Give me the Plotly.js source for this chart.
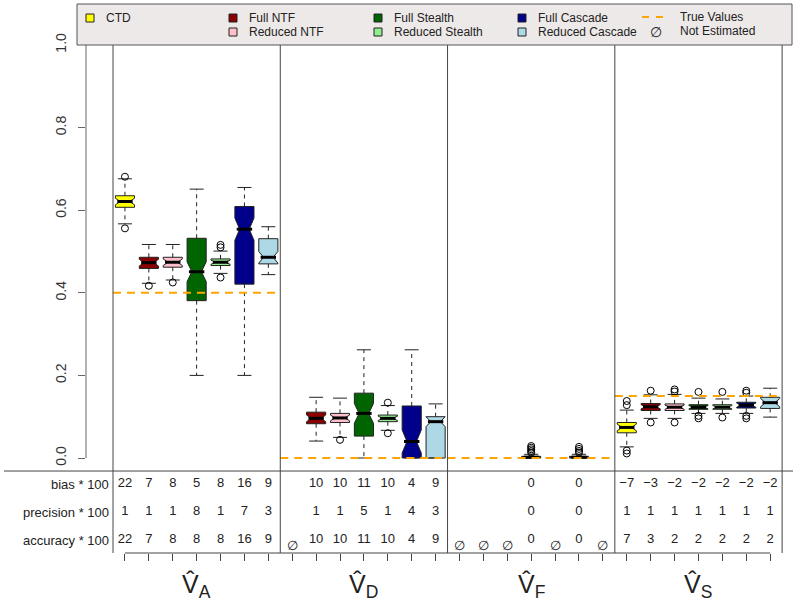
<!DOCTYPE html>
<html>
<head>
<meta charset="utf-8">
<script src="https://cdn.plot.ly/plotly-3.0.1.min.js"></script>
<style>body{margin:0;background:#fff;} #chart{width:800px;height:605px;}</style>
</head>
<body>
<div id="chart"></div>
<script>
// methods, in plotting order inside each panel
const methods = ['CTD', 'Full NTF', 'Reduced NTF', 'Full Stealth', 'Reduced Stealth', 'Full Cascade', 'Reduced Cascade'];
const boxColors = ['#FFFF00', '#8B0000', '#FFC0CB', '#006400', '#90EE90', '#00008B', '#ADD8E6'];
const paramLetters = ['A', 'D', 'F', 'S'];
const trueValues = [0.4, 0, 0, 0.15];

// box stats, one row per parameter (V_A, V_D, V_F, V_S), null = not estimated
const q1s = [
  [0.607, 0.459, 0.462, 0.381, 0.466, 0.421, 0.470],
  [null, 0.083, 0.086, 0.053, 0.088, 0.000, 0.000],
  [null, null, null, 0.000, null, 0.000, null],
  [0.061, 0.115, 0.115, 0.118, 0.118, 0.121, 0.120]
];
const medians = [
  [0.621, 0.473, 0.474, 0.451, 0.474, 0.554, 0.486],
  [null, 0.096, 0.097, 0.108, 0.096, 0.040, 0.088],
  [null, null, null, 0.002, null, 0.002, null],
  [0.074, 0.124, 0.123, 0.123, 0.123, 0.128, 0.134]
];
const q3s = [
  [0.635, 0.486, 0.486, 0.532, 0.482, 0.609, 0.531],
  [null, 0.111, 0.108, 0.157, 0.104, 0.126, 0.100],
  [null, null, null, 0.004, null, 0.004, null],
  [0.086, 0.132, 0.131, 0.129, 0.129, 0.135, 0.147]
];
const lowerW = [
  [0.567, 0.423, 0.431, 0.200, 0.447, 0.200, 0.444],
  [null, 0.041, 0.050, 0.000, 0.067, 0.000, 0.000],
  [null, null, null, 0.000, null, 0.000, null],
  [0.027, 0.096, 0.096, 0.108, 0.108, 0.108, 0.099]
];
const upperW = [
  [0.676, 0.517, 0.517, 0.651, 0.501, 0.655, 0.560],
  [null, 0.147, 0.145, 0.262, 0.127, 0.262, 0.131],
  [null, null, null, 0.009, null, 0.009, null],
  [0.116, 0.153, 0.154, 0.145, 0.143, 0.150, 0.169]
];
const notchSpans = [
  [0.008, 0.008, 0.008, 0.024, 0.005, 0.027, 0.014],
  [null, 0.008, 0.007, 0.024, 0.005, 0.028, 0.012],
  [null, null, null, 0.001, null, 0.001, null],
  [0.008, 0.005, 0.005, 0.004, 0.004, 0.005, 0.010]
];
const outliers = [
  [[0.681, 0.556], [0.417], [0.425], [], [0.516, 0.510, 0.437], [], []],
  [[], [], [0.044], [], [0.134, 0.060], [], []],
  [[], [], [], [0.013, 0.017, 0.021, 0.025, 0.029], [], [0.013, 0.017, 0.022, 0.027], []],
  [[0.128, 0.138, 0.018, 0.011], [0.163, 0.086], [0.166, 0.161, 0.086], [0.160, 0.102, 0.096], [0.160, 0.098], [0.163, 0.158, 0.102, 0.096], []]
];

// summary table (* 100)
const rowLabels = ['bias * 100', 'precision * 100', 'accuracy * 100'];
const bias = [
  [22, 7, 8, 5, 8, 16, 9],
  [null, 10, 10, 11, 10, 4, 9],
  [null, null, null, 0, null, 0, null],
  [-7, -3, -2, -2, -2, -2, -2]
];
const precision = [
  [1, 1, 1, 8, 1, 7, 3],
  [null, 1, 1, 5, 1, 4, 3],
  [null, null, null, 0, null, 0, null],
  [1, 1, 1, 1, 1, 1, 1]
];
const accuracy = [
  [22, 7, 8, 8, 8, 16, 9],
  [null, 10, 10, 11, 10, 4, 9],
  [null, null, null, 0, null, 0, null],
  [7, 3, 2, 2, 2, 2, 2]
];

const W = 800, H = 605;
const M = {l: 86, r: 10, t: 44, b: 52};
const FONT = 'Liberation Sans, Arial, sans-serif';
const rowY = [-0.063, -0.131, -0.199];
const emptyY = -0.214;

function pos(p, m) { return p * 7 + m + 1; }
// pixel -> paper helpers for things drawn outside the data
function px(x) { return (x - M.l) / (W - M.l - M.r); }
function py(y) { return (H - M.b - y) / (H - M.t - M.b); }
function fmt(v) { return v < 0 ? '\u2212' + Math.abs(v) : String(v); }

const traces = [];

// dashed whiskers + caps
const wx = [], wy = [], capX = [], capY = [];
paramLetters.forEach((_, p) => methods.forEach((_, m) => {
  if (q1s[p][m] === null) return;
  const x = pos(p, m);
  wx.push(x, x, null, x, x, null);
  wy.push(q3s[p][m], upperW[p][m], null, q1s[p][m], lowerW[p][m], null);
  capX.push(x, x);
  capY.push(upperW[p][m], lowerW[p][m]);
}));
traces.push({
  type: 'scatter', mode: 'lines', x: wx, y: wy, connectgaps: false,
  line: {color: '#222', width: 1, dash: '4px,4px'}, hoverinfo: 'skip', showlegend: false
});
traces.push({
  type: 'scatter', mode: 'markers', x: capX, y: capY,
  marker: {symbol: 'line-ew', size: 10, line: {color: '#222', width: 1}},
  hoverinfo: 'skip', showlegend: false
});

// boxes, one trace per method
methods.forEach((name, m) => {
  const ps = [0, 1, 2, 3].filter(p => q1s[p][m] !== null);
  traces.push({
    type: 'box', name: name,
    x: ps.map(p => pos(p, m)),
    q1: ps.map(p => q1s[p][m]),
    median: ps.map(p => medians[p][m]),
    q3: ps.map(p => q3s[p][m]),
    lowerfence: ps.map(p => q1s[p][m]),
    upperfence: ps.map(p => q3s[p][m]),
    notched: true,
    notchspan: ps.map(p => notchSpans[p][m]),
    width: 0.8, whiskerwidth: 0,
    fillcolor: boxColors[m],
    line: {color: '#222', width: 1},
    boxpoints: false, showlegend: false, hoverinfo: 'skip'
  });
});

// thick medians
const mx = [], my = [];
paramLetters.forEach((_, p) => methods.forEach((_, m) => {
  if (medians[p][m] === null) return;
  mx.push(pos(p, m)); my.push(medians[p][m]);
}));
traces.push({
  type: 'scatter', mode: 'markers', x: mx, y: my,
  marker: {symbol: 'line-ew', size: 11, line: {color: '#000', width: 3}},
  hoverinfo: 'skip', showlegend: false
});

// outliers
const ox = [], oy = [];
paramLetters.forEach((_, p) => methods.forEach((_, m) => {
  outliers[p][m].forEach(v => { ox.push(pos(p, m)); oy.push(v); });
}));
traces.push({
  type: 'scatter', mode: 'markers', x: ox, y: oy,
  marker: {symbol: 'circle-open', size: 7, color: '#000', line: {width: 1}},
  hoverinfo: 'skip', showlegend: false
});

// true values
const tx = [], ty = [];
trueValues.forEach((v, p) => { tx.push(p * 7 + 0.5, p * 7 + 7.5, null); ty.push(v, v, null); });
traces.push({
  type: 'scatter', mode: 'lines', x: tx, y: ty,
  line: {color: '#FFA500', width: 2, dash: '8px,6px'}, hoverinfo: 'skip', showlegend: false
});

// table values
const tbx = [], tby = [], tbt = [];
[bias, precision, accuracy].forEach((tbl, r) => {
  tbl.forEach((row, p) => row.forEach((v, m) => {
    if (v === null) {
      if (r === 2) { tbx.push(pos(p, m)); tby.push(emptyY); tbt.push('\u2205'); }
      return;
    }
    tbx.push(pos(p, m)); tby.push(rowY[r]); tbt.push(fmt(v));
  }));
});
traces.push({
  type: 'scatter', mode: 'text', x: tbx, y: tby, text: tbt,
  textfont: {family: FONT, size: 13, color: '#222'}, hoverinfo: 'skip', showlegend: false
});

const shapes = [];
const annotations = [];

// y axis line (0 to 1 only)
shapes.push({type: 'line', xref: 'paper', yref: 'y', x0: 0, x1: 0, y0: 0, y1: 1, line: {color: '#666', width: 1}});
// panel dividers
for (let p = 0; p <= 4; p++) {
  shapes.push({type: 'line', xref: 'x', yref: 'paper', x0: p * 7 + 0.5, x1: p * 7 + 0.5, y0: 0, y1: 1, line: {color: '#444', width: 1}});
}
// line above the table
shapes.push({type: 'line', xref: 'paper', yref: 'y', x0: px(4), x1: px(793), y0: -0.0315, y1: -0.0315, line: {color: '#444', width: 1}});
// bottom axis line
shapes.push({type: 'line', xref: 'x', yref: 'paper', x0: 1, x1: 28, y0: 0, y1: 0, line: {color: '#444', width: 1}});

rowLabels.forEach((t, r) => {
  annotations.push({xref: 'x', yref: 'y', x: 0.5, y: rowY[r], text: t, showarrow: false,
    xanchor: 'right', xshift: -2, font: {family: FONT, size: 13, color: '#222'}});
});
paramLetters.forEach((l, p) => {
  annotations.push({xref: 'x', yref: 'paper', x: p * 7 + 4, y: py(586), text: 'V\u0302<sub>' + l + '</sub>',
    showarrow: false, yanchor: 'middle', font: {family: FONT, size: 25, color: '#222'}});
});

// legend built by hand
shapes.push({type: 'rect', xref: 'paper', yref: 'paper', x0: px(77), x1: px(792), y0: py(45), y1: py(4),
  fillcolor: '#EEE9E9', line: {color: '#555', width: 1}});
const legPos = [[90, 18], [233, 18], [233, 32], [378, 18], [378, 32], [522, 18], [522, 32]];
methods.forEach((name, m) => {
  const [lx, ly] = legPos[m];
  shapes.push({type: 'rect', xref: 'paper', yref: 'paper', x0: px(lx - 4), x1: px(lx + 4), y0: py(ly + 4), y1: py(ly - 4),
    fillcolor: boxColors[m], line: {color: '#222', width: 1}});
  annotations.push({xref: 'paper', yref: 'paper', x: px(lx + 14), y: py(ly), text: name, showarrow: false,
    xanchor: 'left', yanchor: 'middle', font: {family: FONT, size: 12, color: '#222'}});
});
shapes.push({type: 'line', xref: 'paper', yref: 'paper', x0: px(642), x1: px(664), y0: py(17), y1: py(17),
  line: {color: '#FFA500', width: 2, dash: '7px,7px'}});
annotations.push({xref: 'paper', yref: 'paper', x: px(678), y: py(17), text: 'True Values', showarrow: false,
  xanchor: 'left', yanchor: 'middle', font: {family: FONT, size: 12, color: '#222'}});
annotations.push({xref: 'paper', yref: 'paper', x: px(656), y: py(32), text: '\u2205', showarrow: false,
  xanchor: 'center', yanchor: 'middle', font: {family: FONT, size: 14, color: '#222'}});
annotations.push({xref: 'paper', yref: 'paper', x: px(678), y: py(31), text: 'Not Estimated', showarrow: false,
  xanchor: 'left', yanchor: 'middle', font: {family: FONT, size: 12, color: '#222'}});

const layout = {
  width: W, height: H,
  margin: M,
  paper_bgcolor: '#fff', plot_bgcolor: '#fff',
  font: {family: FONT, size: 14, color: '#222'},
  boxmode: 'overlay',
  showlegend: false,
  xaxis: {
    range: [-0.63, 28.83], showgrid: false, zeroline: false, showline: false,
    tickvals: Array.from({length: 28}, (_, i) => i + 1), showticklabels: false,
    ticks: 'outside', ticklen: 7, tickcolor: '#444'
  },
  yaxis: {
    range: [-0.23, 1.0024], showgrid: false, zeroline: false, showline: false,
    tickvals: [0, 0.2, 0.4, 0.6, 0.8, 1.0], tickformat: '.1f', tickangle: -90,
    ticks: 'outside', ticklen: 7, tickcolor: '#666', ticklabelstandoff: 6,
    tickfont: {family: FONT, size: 14, color: '#333'}
  },
  shapes: shapes,
  annotations: annotations
};

Plotly.newPlot('chart', traces, layout, {displayModeBar: false, staticPlot: true});
</script>
</body>
</html>
